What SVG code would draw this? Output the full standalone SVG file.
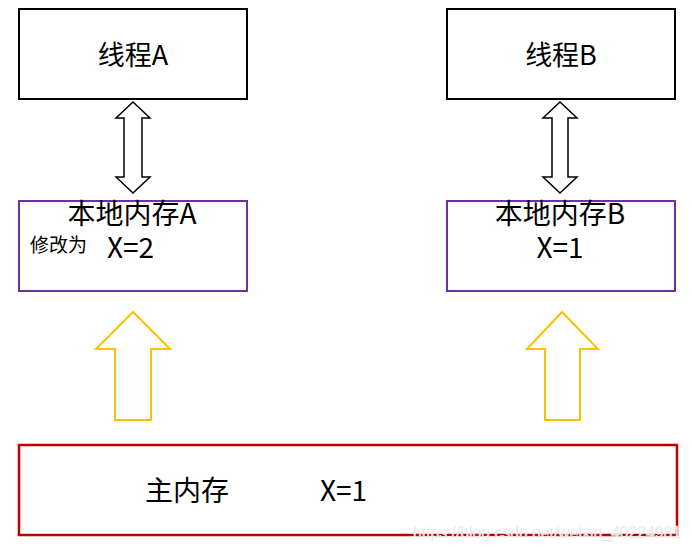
<svg xmlns="http://www.w3.org/2000/svg" width="692" height="550" viewBox="0 0 692 550">
<style>
.t{font-family:"Noto Sans CJK SC","Noto Sans",sans-serif;fill:#000}
.thread{fill:#fff;stroke:#000;stroke-width:2}
.local{fill:#fff;stroke:#7030A0;stroke-width:2}
.main{fill:#fff;stroke:#C00000;stroke-width:2.5}
.dbl{fill:#fff;stroke:#000;stroke-width:1.5}
.up{fill:#fff;stroke:#FFC000;stroke-width:2}
</style>
<rect width="692" height="550" fill="#fff"/>
<g id="threadA"><rect class="thread" x="19" y="9" width="228" height="90"/><text class="t" x="133" y="65" font-size="27" text-anchor="middle">线程A</text></g>
<g id="threadB"><rect class="thread" x="447" y="9" width="228" height="90"/><text class="t" x="561" y="65" font-size="27" text-anchor="middle">线程B</text></g>
<g id="localA"><rect class="local" x="19" y="201" width="228" height="90"/><text class="t" x="132" y="224" font-size="28" text-anchor="middle">本地内存A</text><text class="t" x="30" y="252" font-size="19">修改为</text><text class="t" x="107" y="258" font-size="28">X=2</text></g>
<g id="localB"><rect class="local" x="447" y="201" width="228" height="90"/><text class="t" x="560" y="224" font-size="28" text-anchor="middle">本地内存B</text><text class="t" x="560" y="258" font-size="28" text-anchor="middle">X=1</text></g>
<g id="mainMem"><rect class="main" x="19" y="445" width="658" height="90"/><text class="t" x="145" y="501" font-size="28">主内存</text><text class="t" x="320" y="501" font-size="28">X=1</text></g>
<g id="connectors">
<polygon class="dbl" points="133,102 150,118 142,118 142,177 150,177 133,193 116,177 124,177 124,118 116,118"/>
<polygon class="dbl" points="560,102 577,118 568,118 568,177 577,177 560,193 543,177 552,177 552,118 543,118"/>
<polygon class="up" points="133,312 170,349 151,349 151,420 115,420 115,349 96,349"/>
<polygon class="up" points="562,312 598,349 580,349 580,420 545,420 545,349 527,349"/>
</g>
<text x="413" y="538" font-family="Liberation Sans,Arial,sans-serif" font-size="16" textLength="268" lengthAdjust="spacingAndGlyphs" fill="#d6d6d6" stroke="#fff" stroke-width="0.5">https://blog.csdn.net/weixin_40224981</text>
</svg>
